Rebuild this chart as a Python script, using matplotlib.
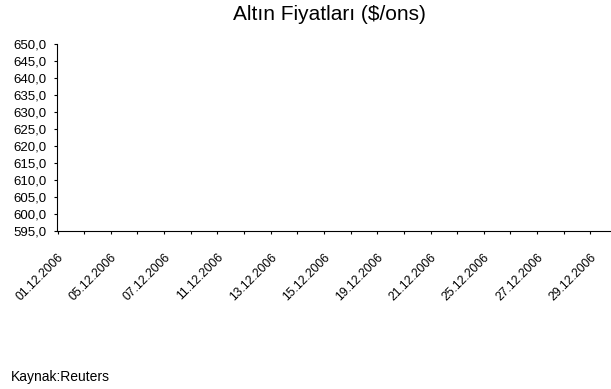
import matplotlib
matplotlib.use('Agg')
import matplotlib.pyplot as plt
from matplotlib.ticker import FixedLocator

plt.rcParams['font.family'] = ['Liberation Sans', 'DejaVu Sans']

# business days of December 2006 (categories)
dates = ['01.12.2006', '04.12.2006', '05.12.2006', '06.12.2006', '07.12.2006',
         '08.12.2006', '11.12.2006', '12.12.2006', '13.12.2006', '14.12.2006',
         '15.12.2006', '18.12.2006', '19.12.2006', '20.12.2006', '21.12.2006',
         '22.12.2006', '25.12.2006', '26.12.2006', '27.12.2006', '28.12.2006',
         '29.12.2006']
# no price values are drawn in the original chart
prices = []
y_ticks = [595, 600, 605, 610, 615, 620, 625, 630, 635, 640, 645, 650]
y_labels = ['595,0', '600,0', '605,0', '610,0', '615,0', '620,0',
            '625,0', '630,0', '635,0', '640,0', '645,0', '650,0']

W, H = 611, 389
fig = plt.figure(figsize=(W / 100, H / 100), dpi=100)
ax = fig.add_axes([57.3 / W, (H - 230.6) / H, 559.7 / W, 186.6 / H])

n = len(dates)
if prices:
    ax.plot(range(len(prices)), prices, color='navy')

ax.set_xlim(-0.5, n - 0.5)
ax.set_ylim(y_ticks[0], y_ticks[-1])

ax.set_yticks(y_ticks)
ax.set_yticklabels(y_labels, fontsize=9.5)

# labels on every other day, anchored a little left of the category centre
label_idx = list(range(0, n, 2))
ax.set_xticks([i - 0.51 for i in label_idx])
ax.set_xticklabels([dates[i] for i in label_idx], fontsize=8.8,
                   rotation=45, ha='right', va='top', rotation_mode='anchor')
ax.xaxis.set_minor_locator(FixedLocator([i - 0.5 for i in range(n + 1)]))
ax.tick_params(axis='x', which='major', length=0, pad=15)
ax.tick_params(axis='x', which='minor', length=2.5, width=0.8, direction='out')
ax.tick_params(axis='y', length=2.2, width=0.8, direction='out', pad=5.5)

for s in ['top', 'right']:
    ax.spines[s].set_visible(False)
for s in ['left', 'bottom']:
    ax.spines[s].set_linewidth(0.8)

fig.text(329 / W, 1 - 15 / H, 'Altın Fiyatları ($/ons)', fontsize=15,
         ha='center', va='center')
fig.text(11 / W, 1 - 377 / H, 'Kaynak:Reuters', fontsize=10,
         ha='left', va='center')

fig.savefig('out.png', dpi=100)
